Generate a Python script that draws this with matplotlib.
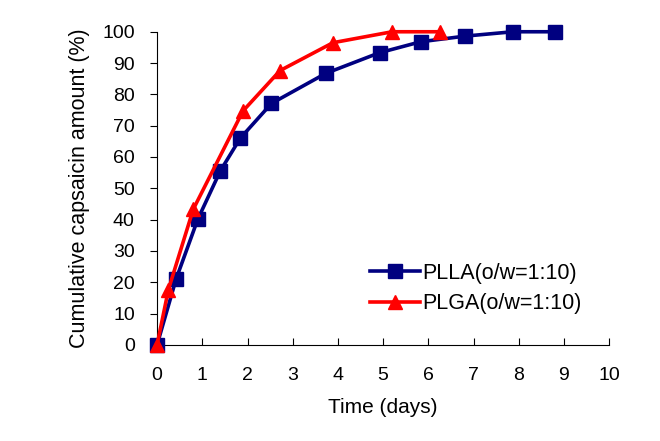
import matplotlib
matplotlib.use('Agg')
from matplotlib import pyplot as plt

# release data
plla_days = [0, 0.42, 0.9, 1.4, 1.84, 2.53, 3.73, 4.92, 5.83, 6.81, 7.87, 8.81]
plla_vals = [0, 21.0, 40.1, 55.6, 66.0, 77.1, 86.7, 93.3, 96.8, 98.6, 100, 100]
plga_days = [0, 0.25, 0.8, 1.9, 2.72, 3.89, 5.2, 6.26]
plga_vals = [0, 17.6, 43.3, 74.7, 87.6, 96.5, 100, 100]

x_ticks = list(range(0, 11))
y_ticks = list(range(0, 101, 10))


def main():
    plt.rcParams['font.family'] = ['Liberation Sans', 'DejaVu Sans']
    fig = plt.figure(figsize=(6.6, 4.41), dpi=100)
    ax = fig.add_axes([0.238, 0.218, 0.685, 0.710])

    ax.plot(plla_days, plla_vals, color='#000080', lw=2.6, marker='s', ms=10,
            label='PLLA(o/w=1:10)', clip_on=False, zorder=3)
    ax.plot(plga_days, plga_vals, color='#ff0000', lw=2.6, marker='^', ms=10.5,
            label='PLGA(o/w=1:10)', clip_on=False, zorder=4)

    ax.set_xlim(0, 10)
    ax.set_ylim(0, 100)
    ax.set_xticks(x_ticks)
    ax.set_yticks(y_ticks)
    ax.spines['top'].set_visible(False)
    ax.spines['right'].set_visible(False)
    ax.tick_params(axis='x', direction='in', length=5, pad=16, labelsize=14)
    ax.tick_params(axis='y', direction='out', length=5, pad=11, labelsize=14)

    ax.set_xlabel('Time (days)', fontsize=15, labelpad=10)
    ax.set_ylabel('Cumulative capsaicin amount (%)', fontsize=15.5, labelpad=9)

    ax.legend(loc='upper left', bbox_to_anchor=(370 / 660, 1 - 263 / 441),
              bbox_transform=fig.transFigure, frameon=False, fontsize=15.5,
              handlelength=2.3, handletextpad=0.15, labelspacing=0.42,
              borderpad=0, borderaxespad=0)

    plt.savefig('out.png', dpi=100)


if __name__ == '__main__':
    main()
